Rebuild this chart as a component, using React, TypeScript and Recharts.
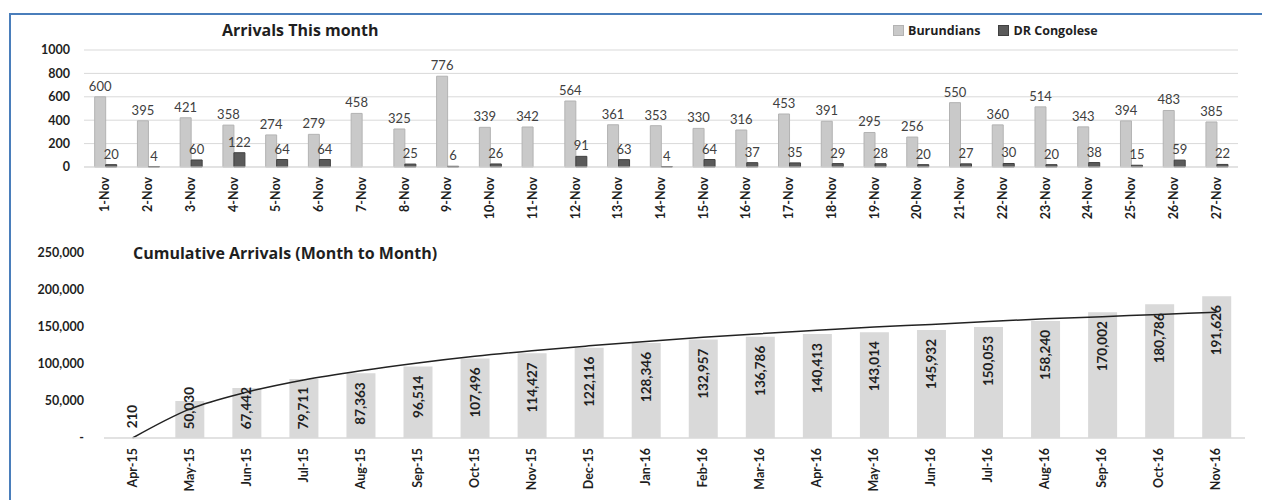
import React from 'react';
import { BarChart, ComposedChart, Bar, Line, XAxis, YAxis, CartesianGrid, LabelList } from 'recharts';

const days = ['1-Nov', '2-Nov', '3-Nov', '4-Nov', '5-Nov', '6-Nov', '7-Nov', '8-Nov', '9-Nov', '10-Nov', '11-Nov', '12-Nov', '13-Nov', '14-Nov', '15-Nov', '16-Nov', '17-Nov', '18-Nov', '19-Nov', '20-Nov', '21-Nov', '22-Nov', '23-Nov', '24-Nov', '25-Nov', '26-Nov', '27-Nov'];
const burundians = [600, 395, 421, 358, 274, 279, 458, 325, 776, 339, 342, 564, 361, 353, 330, 316, 453, 391, 295, 256, 550, 360, 514, 343, 394, 483, 385];
const congolese = [20, 4, 60, 122, 64, 64, null, 25, 6, 26, null, 91, 63, 4, 64, 37, 35, 29, 28, 20, 27, 30, 20, 38, 15, 59, 22];
const dailyTicks = [0, 200, 400, 600, 800, 1000];

const months = ['Apr-15', 'May-15', 'Jun-15', 'Jul-15', 'Aug-15', 'Sep-15', 'Oct-15', 'Nov-15', 'Dec-15', 'Jan-16', 'Feb-16', 'Mar-16', 'Apr-16', 'May-16', 'Jun-16', 'Jul-16', 'Aug-16', 'Sep-16', 'Oct-16', 'Nov-16'];
const cumulative = [210, 50030, 67442, 79711, 87363, 96514, 107496, 114427, 122116, 128346, 132957, 136786, 140413, 143014, 145932, 150053, 158240, 170002, 180786, 191626];
// trendline
const trend = [0, 39000, 62000, 78500, 91000, 101500, 110500, 118000, 124500, 130500, 136000, 141000, 145500, 150000, 153500, 157500, 161000, 164000, 167000, 170000];
const cumulativeTicks = [0, 50000, 100000, 150000, 200000, 250000];

const dailyData = days.map((d, i) => ({ day: d, burundians: burundians[i], congolese: congolese[i] }));
const monthlyData = months.map((m, i) => ({ month: m, cumulative: cumulative[i], trend: trend[i] }));

const FONT = "Lato, 'Open Sans', sans-serif";
const TITLE_FONT = "'Open Sans', Lato, sans-serif";
const INK = '#1f1f1f';

const RotTick = (props: any) => {
  const { x, y, payload } = props;
  const px = x + 4;
  const py = y + 2;
  return (
    <text x={px} y={py} transform={`rotate(-90, ${px}, ${py})`} textAnchor="end" fontSize={12.5} fontWeight={700} fill={INK} fontFamily={FONT}>
      {payload.value}
    </text>
  );
};

const fmtThousands = (v: number) => (v === 0 ? '-' : v.toLocaleString('en-US'));

const CumLabel = (props: any) => {
  const { x, y, width, height, value } = props;
  const s = Number(value).toLocaleString('en-US');
  const digits = s.replace(/,/g, '').length;
  const len = digits * 7.4 + (s.length - digits) * 3;
  const top = Math.min(y + 9, y + height - 11 - len);
  const px = x + width / 2 + 4.5;
  return (
    <text x={px} y={top} transform={`rotate(-90, ${px}, ${top})`} textAnchor="end" fontSize={13.5} fontWeight={700} fill={INK} fontFamily={FONT}>
      {s}
    </text>
  );
};

export default function App() {
  return (
    <div style={{ position: 'absolute', left: 0, top: 0, width: 1262, height: 500, overflow: 'hidden', background: '#fff', fontFamily: FONT }}>
      <div style={{ position: 'absolute', left: 9, top: 13, width: 1300, height: 520, borderTop: '2px solid #4a7ebb', borderLeft: '2px solid #4a7ebb' }} />

      <div style={{ position: 'absolute', left: 222, top: 19, fontSize: 16, fontWeight: 700, color: INK, fontFamily: TITLE_FONT }}>Arrivals This month</div>
      <div style={{ position: 'absolute', left: 893, top: 22, display: 'flex', alignItems: 'center', fontSize: 12.5, fontWeight: 700, color: INK, fontFamily: TITLE_FONT }}>
        <span style={{ width: 9, height: 9, background: '#c9c9c9', border: '1px solid #b3b3b3', marginRight: 4 }} />
        <span style={{ marginRight: 18 }}>Burundians</span>
        <span style={{ width: 9, height: 9, background: '#5a5a5a', border: '1px solid #404040', marginRight: 4 }} />
        <span>DR Congolese</span>
      </div>

      <div style={{ position: 'absolute', left: 0, top: 0 }}>
        <BarChart width={1262} height={230} data={dailyData} margin={{ top: 50, right: 24, left: 0, bottom: 0 }} barCategoryGap="25%" barGap={0}>
          <CartesianGrid vertical={false} stroke="#d9d9d9" />
          <XAxis dataKey="day" interval={0} height={63} tick={<RotTick />} tickLine={false} axisLine={{ stroke: '#d9d9d9' }} />
          <YAxis domain={[0, 1000]} ticks={dailyTicks} width={84} axisLine={false} tickLine={false} tickSize={6} tickMargin={8}
            tick={{ fontSize: 12.5, fontWeight: 700, fill: INK, fontFamily: FONT }} />
          <Bar dataKey="burundians" fill="#c9c9c9" stroke="#b3b3b3" isAnimationActive={false}>
            <LabelList dataKey="burundians" position="top" offset={6} fontSize={13} fill="#404040" fontFamily={FONT} />
          </Bar>
          <Bar dataKey="congolese" fill="#5a5a5a" stroke="#404040" isAnimationActive={false}>
            <LabelList dataKey="congolese" position="top" offset={6} fontSize={13} fill="#404040" fontFamily={FONT}
              formatter={(v: any) => (v == null ? '' : v)} />
          </Bar>
        </BarChart>
      </div>

      <div style={{ position: 'absolute', left: 133, top: 242, fontSize: 16, fontWeight: 700, color: INK, fontFamily: TITLE_FONT }}>Cumulative Arrivals (Month to Month)</div>

      <div style={{ position: 'absolute', left: 0, top: 230 }}>
        <ComposedChart width={1262} height={270} data={monthlyData} margin={{ top: 23, right: 17, left: 0, bottom: 0 }} barCategoryGap="25%">
          <XAxis dataKey="month" interval={0} height={62} tick={<RotTick />} tickLine={false} axisLine={{ stroke: '#d9d9d9', strokeWidth: 1.5 }} />
          <YAxis domain={[0, 250000]} ticks={cumulativeTicks} width={104} axisLine={false} tickLine={false} tickSize={6} tickMargin={14}
            tickFormatter={fmtThousands} tick={{ fontSize: 12.5, fontWeight: 700, fill: INK, fontFamily: FONT }} />
          <Bar dataKey="cumulative" fill="#d9d9d9" isAnimationActive={false}>
            <LabelList dataKey="cumulative" content={<CumLabel />} />
          </Bar>
          <Line dataKey="trend" type="monotone" stroke="#222" strokeWidth={1.5} dot={false} isAnimationActive={false} />
        </ComposedChart>
      </div>
    </div>
  );
}
